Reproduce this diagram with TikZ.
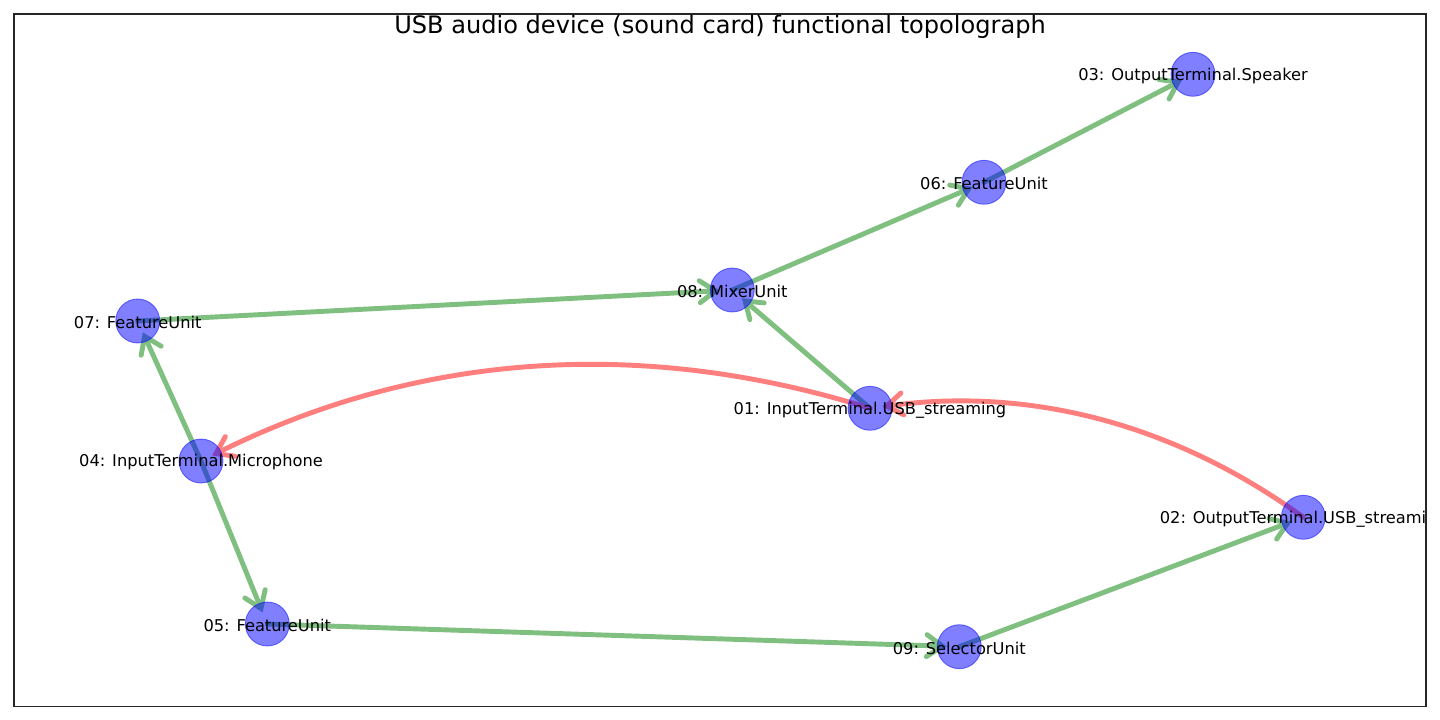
\documentclass[tikz,border=0pt]{standalone}
\usepackage{fontspec}
\setmainfont{DejaVu Sans}
\usetikzlibrary{arrows.meta,backgrounds}
\definecolor{edgegreen}{RGB}{127,191,127}
\definecolor{edgered}{RGB}{255,127,127}
\tikzset{
  vtx/.style={circle, minimum size=0.88cm, inner sep=0pt, fill=blue, fill opacity=0.5, draw=blue, draw opacity=0.5, line width=0.5pt},
  lbl/.style={inner sep=0pt, yshift=-0.03cm, font=\fontsize{9.25}{11}\selectfont, text=black},
  gedge/.style={draw=edgegreen, line width=2.8pt, line cap=round, shorten >=0.25cm, -{Straight Barb[length=9pt,width=12.5pt,line cap=round]}},
  redge/.style={draw=edgered, line width=2.8pt, line cap=round, shorten >=0.25cm, -{Straight Barb[length=9pt,width=12.5pt,line cap=round]}},
}
\begin{document}
\begin{tikzpicture}[x=0.02cm, y=-0.02cm]
\useasboundingbox (0,0) rectangle (1440,720);
\begin{scope}
\clip (14,14) rectangle (1426,706.5);
% nodes
\node[vtx] (n03) at (1193,74.3) {};
\node[vtx] (n06) at (984,182.3) {};
\node[vtx] (n08) at (732.3,290) {};
\node[vtx] (n07) at (137.7,321) {};
\node[vtx] (n01) at (870,408.3) {};
\node[vtx] (n04) at (201,461) {};
\node[vtx] (n02) at (1303.3,517.3) {};
\node[vtx] (n05) at (267.3,624) {};
\node[vtx] (n09) at (959.3,646.7) {};
% labels
\node[lbl] (l03) at (n03.center) {03: OutputTerminal.Speaker};
\node[lbl] (l06) at (n06.center) {06: FeatureUnit};
\node[lbl] (l08) at (n08.center) {08: MixerUnit};
\node[lbl] (l07) at (n07.center) {07: FeatureUnit};
\node[lbl] (l01) at (n01.center) {01: InputTerminal.USB\_streaming};
\node[lbl] (l04) at (n04.center) {04: InputTerminal.Microphone};
\node[lbl] (l02) at (n02.center) {02: OutputTerminal.USB\_streaming};
\node[lbl] (l05) at (n05.center) {05: FeatureUnit};
\node[lbl] (l09) at (n09.center) {09: SelectorUnit};
\end{scope}
\begin{pgfonlayer}{background}
\draw[gedge] (n04.center) -- (n07.center);
\draw[gedge] (n04.center) -- (n05.center);
\draw[gedge] (n07.center) -- (n08.center);
\draw[gedge] (n01.center) -- (n08.center);
\draw[gedge] (n08.center) -- (n06.center);
\draw[gedge] (n06.center) -- (n03.center);
\draw[gedge] (n05.center) -- (n09.center);
\draw[gedge] (n09.center) -- (n02.center);
\draw[redge] (n01.center) .. controls (640,336.5) and (417,353.5) .. (n04.center);
\draw[redge] (n02.center) .. controls (1173.4,423.2) and (1029,386.8) .. (n01.center);
\end{pgfonlayer}
\draw[line width=0.6pt, draw=black!85] (14,14) rectangle (1426,706.5);
\node[anchor=base, inner sep=0pt, font=\fontsize{13.7}{16}\selectfont] (title) at (720,33) {USB audio device (sound card) functional topolograph};
\end{tikzpicture}
\end{document}
